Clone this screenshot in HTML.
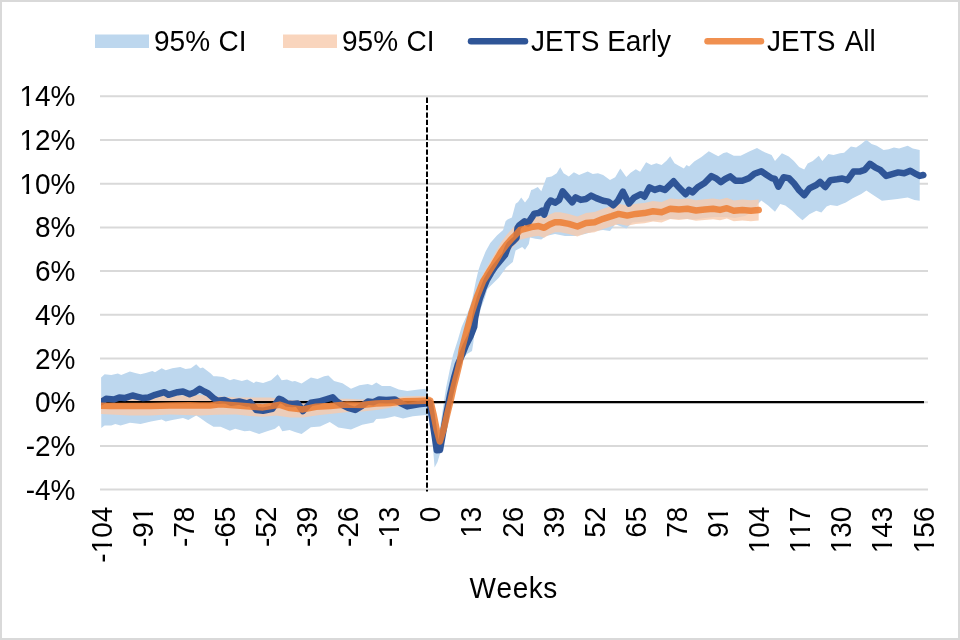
<!DOCTYPE html>
<html><head><meta charset="utf-8"><style>
html,body{margin:0;padding:0;background:#fff;}
body{width:960px;height:640px;overflow:hidden;font-family:"Liberation Sans",sans-serif;}
svg{display:block;}
</style></head><body>
<svg width="960" height="640" viewBox="0 0 960 640">
<rect x="0" y="0" width="960" height="640" fill="#fff"/>
<rect x="1" y="1" width="958" height="638" fill="none" stroke="#D9D9D9" stroke-width="2"/>
<line x1="100" x2="928" y1="489.60" y2="489.60" stroke="#D9D9D9" stroke-width="2"/>
<line x1="100" x2="928" y1="445.90" y2="445.90" stroke="#D9D9D9" stroke-width="2"/>
<line x1="100" x2="928" y1="358.50" y2="358.50" stroke="#D9D9D9" stroke-width="2"/>
<line x1="100" x2="928" y1="314.80" y2="314.80" stroke="#D9D9D9" stroke-width="2"/>
<line x1="100" x2="928" y1="271.10" y2="271.10" stroke="#D9D9D9" stroke-width="2"/>
<line x1="100" x2="928" y1="227.40" y2="227.40" stroke="#D9D9D9" stroke-width="2"/>
<line x1="100" x2="928" y1="183.70" y2="183.70" stroke="#D9D9D9" stroke-width="2"/>
<line x1="100" x2="928" y1="140.00" y2="140.00" stroke="#D9D9D9" stroke-width="2"/>
<line x1="100" x2="928" y1="96.30" y2="96.30" stroke="#D9D9D9" stroke-width="2"/>

<defs><clipPath id="pa"><rect x="101" y="90" width="840" height="410"/></clipPath></defs>
<g clip-path="url(#pa)">
<path d="M101.1,377.6 L104.6,374.2 L111.3,374.9 L117.9,373.6 L121.2,374.9 L129.9,371.6 L135.2,372.9 L140.5,374.2 L145.8,372.9 L152.4,370.9 L155.0,372.3 L161.7,368.3 L165.7,370.3 L172.3,368.3 L180.3,367.0 L185.6,368.9 L190.9,368.3 L196.2,364.3 L200.2,368.3 L202.9,367.6 L210.8,373.6 L213.5,376.2 L216.6,376.2 L223.3,376.9 L229.9,380.2 L233.9,378.9 L241.9,380.9 L247.2,379.6 L253.8,382.9 L256.0,381.6 L263.1,382.9 L271.1,380.2 L277.7,374.2 L281.7,380.2 L287.0,379.6 L292.3,381.6 L295.0,380.9 L301.6,383.5 L310.9,377.6 L317.5,378.9 L324.2,376.2 L328.4,375.5 L334.1,381.1 L342.5,383.2 L351.0,388.8 L359.4,385.3 L367.8,383.9 L372.0,385.3 L376.3,382.5 L381.9,386.0 L390.3,386.0 L398.8,389.5 L407.2,391.0 L418.5,389.5 L425.5,388.8 L427.0,392.0 L429.0,398.0 L431.0,402.0 L434.0,412.0 L437.0,432.0 L440.0,428.0 L443.0,408.0 L446.0,388.0 L449.7,370.0 L453.0,355.0 L457.8,340.0 L461.6,326.9 L465.8,317.5 L469.5,308.1 L472.3,298.8 L474.2,289.4 L476.1,280.0 L478.5,270.0 L480.5,264.0 L485.6,251.6 L490.3,243.1 L496.9,235.6 L503.1,230.0 L505.6,221.3 L507.5,219.4 L511.9,217.5 L513.8,210.6 L515.6,203.8 L518.1,201.9 L521.2,197.5 L525.0,202.5 L528.8,197.5 L531.2,190.0 L533.0,189.5 L537.8,187.0 L541.3,191.3 L546.4,177.5 L551.6,176.6 L556.7,173.2 L560.2,167.2 L563.6,173.2 L568.8,176.6 L573.9,172.3 L579.1,174.9 L587.7,171.5 L592.8,174.1 L598.0,173.2 L603.1,174.9 L610.0,180.0 L615.2,177.2 L620.3,168.4 L626.3,177.0 L630.6,172.7 L635.8,169.2 L640.1,171.8 L646.1,162.3 L651.3,164.9 L656.4,163.2 L661.6,164.9 L666.7,160.6 L670.2,156.3 L674.5,163.2 L678.8,165.8 L683.9,168.4 L686.5,164.9 L689.1,166.6 L694.2,161.5 L701.1,157.2 L708.8,151.2 L714.9,154.6 L718.3,156.3 L723.5,152.9 L726.9,152.3 L733.8,155.8 L740.6,155.8 L749.2,151.5 L757.0,148.1 L764.7,152.3 L771.6,154.9 L775.0,160.9 L781.9,153.2 L788.8,156.6 L793.9,160.9 L799.1,167.0 L804.2,169.5 L807.7,163.5 L812.8,160.9 L818.8,155.8 L822.3,160.9 L828.3,154.1 L833.5,154.9 L840.0,153.2 L844.1,152.7 L850.9,146.6 L856.1,147.5 L861.3,144.1 L866.4,139.8 L871.6,144.1 L876.7,145.8 L883.6,150.1 L888.8,149.2 L893.9,147.5 L899.1,148.4 L907.7,145.8 L912.8,148.4 L919.7,150.1 L919.7,200.8 L914.5,199.9 L907.7,197.4 L897.4,199.1 L888.8,199.9 L881.9,200.8 L871.6,193.9 L866.4,190.5 L861.3,193.9 L852.7,198.2 L845.8,202.5 L837.2,206.0 L830.3,205.1 L826.6,206.5 L821.4,212.5 L816.3,210.8 L809.4,214.2 L802.5,220.3 L797.4,216.0 L792.2,210.8 L785.3,205.6 L780.2,203.9 L775.0,211.7 L768.1,205.6 L761.3,200.5 L758.0,204.0 L752.0,212.0 L745.0,216.0 L735.0,218.0 L725.0,217.0 L715.0,217.0 L705.0,218.0 L695.0,219.5 L687.0,219.0 L679.0,219.0 L670.0,219.0 L660.0,220.0 L650.0,221.0 L640.0,222.0 L632.3,222.5 L626.3,228.5 L620.0,226.0 L615.2,224.2 L610.0,231.1 L603.0,230.0 L595.0,231.0 L585.0,234.0 L575.0,236.0 L565.0,236.0 L555.0,234.0 L546.0,236.0 L541.3,239.4 L535.4,238.7 L530.0,237.6 L528.8,244.0 L525.0,249.7 L522.2,246.9 L515.6,250.6 L512.8,261.9 L506.3,267.5 L498.8,277.8 L489.4,287.0 L487.3,289.4 L484.5,298.8 L481.0,308.0 L479.0,316.0 L476.5,325.0 L474.0,336.0 L473.3,343.0 L472.0,351.0 L467.0,354.0 L462.0,360.0 L458.0,370.0 L454.0,384.0 L450.0,398.0 L447.0,412.0 L443.5,430.0 L440.5,452.0 L437.5,462.0 L434.6,467.5 L431.5,430.0 L428.5,417.0 L425.5,414.9 L412.9,416.3 L403.0,418.4 L394.6,416.3 L384.7,418.4 L376.3,419.1 L373.5,422.6 L362.2,424.7 L351.0,429.6 L338.3,427.5 L329.8,421.9 L320.0,426.5 L310.9,427.3 L301.6,434.0 L295.0,432.0 L289.6,430.0 L282.3,431.3 L279.0,425.4 L275.0,428.7 L267.1,431.3 L259.1,434.0 L249.8,430.7 L244.5,431.3 L235.2,428.7 L229.9,430.7 L220.6,426.7 L213.5,426.7 L206.9,422.7 L200.2,418.0 L196.2,415.4 L188.3,420.0 L183.0,418.0 L172.3,420.0 L165.7,421.4 L161.7,419.4 L151.0,421.4 L140.5,424.0 L136.5,423.4 L129.9,422.7 L120.6,425.4 L115.3,424.0 L111.3,425.4 L104.6,425.4 L101.3,428.0Z" fill="#BDD7EE"/>
<path d="M101.0,397.5 L120.0,396.5 L150.0,396.2 L180.0,395.5 L200.0,395.0 L216.0,396.2 L236.0,397.5 L250.0,397.5 L270.0,397.5 L290.0,400.0 L303.0,400.8 L316.0,400.1 L330.0,399.0 L347.0,398.7 L362.0,399.4 L376.0,398.5 L390.0,398.0 L404.0,396.6 L418.0,395.9 L426.0,395.9 L430.3,396.5 L433.5,410.6 L436.7,426.3 L439.8,437.5 L444.0,423.8 L447.3,409.6 L450.5,396.5 L453.6,382.3 L456.7,370.2 L459.6,358.0 L461.9,343.8 L466.6,325.6 L471.4,307.4 L476.9,290.2 L483.1,273.9 L486.5,268.2 L489.5,262.8 L493.3,256.3 L497.5,248.8 L501.2,242.2 L506.2,235.4 L512.0,228.7 L517.0,223.9 L520.1,220.3 L526.7,218.6 L533.3,216.9 L538.7,216.3 L544.2,217.9 L549.6,214.6 L555.0,212.3 L560.2,212.2 L568.8,213.9 L577.4,216.5 L586.0,213.0 L594.6,212.1 L603.1,208.7 L611.7,206.1 L618.6,203.8 L627.2,205.4 L635.8,203.7 L644.4,202.9 L653.0,201.1 L661.6,201.9 L670.2,198.5 L678.8,199.3 L687.4,198.5 L696.0,200.2 L704.6,199.2 L713.1,198.4 L720.0,199.5 L726.9,197.8 L733.8,200.4 L742.3,199.4 L750.9,200.3 L758.7,199.4 L758.7,220.4 L750.9,221.3 L742.3,220.4 L733.8,221.2 L726.9,218.6 L720.0,220.3 L713.1,219.2 L704.6,220.0 L696.0,220.8 L687.4,219.1 L678.8,219.9 L670.2,219.1 L661.6,222.5 L653.0,221.5 L644.4,223.3 L635.8,224.1 L627.2,225.8 L618.6,224.0 L611.7,226.3 L603.1,228.9 L594.6,232.3 L586.0,233.2 L577.4,236.5 L568.8,233.9 L560.2,232.2 L555.0,232.3 L549.6,234.4 L544.2,237.7 L538.7,235.9 L533.3,236.5 L526.7,238.0 L520.1,239.7 L517.0,243.1 L512.0,247.9 L506.2,254.6 L501.2,261.2 L497.5,267.2 L493.3,273.7 L489.5,279.2 L486.5,283.8 L483.1,288.7 L476.9,303.6 L471.4,319.6 L466.6,337.0 L461.9,354.2 L459.6,368.0 L456.7,379.8 L453.6,391.7 L450.5,405.5 L447.3,418.4 L444.0,432.2 L439.8,445.5 L436.7,433.7 L433.5,417.4 L430.3,404.0 L426.0,405.0 L418.0,405.0 L404.0,405.7 L390.0,407.8 L376.0,410.0 L362.0,411.4 L348.0,412.0 L334.0,413.5 L320.0,414.9 L316.0,415.4 L303.0,417.4 L290.0,417.4 L276.0,415.4 L263.0,416.7 L250.0,416.0 L236.0,414.5 L216.0,414.7 L200.0,415.5 L170.0,414.5 L150.0,415.5 L130.0,415.4 L101.0,414.0Z" fill="#F8CBAD" fill-opacity="0.8"/>
<line x1="100" x2="928" y1="402.2" y2="402.2" stroke="#D9D9D9" stroke-width="2"/>
<line x1="100" x2="924" y1="402.2" y2="402.2" stroke="#000" stroke-width="2.2"/>
<polyline points="101.3,402.1 106.0,398.8 113.9,399.5 119.2,397.5 124.5,398.1 132.5,395.5 137.8,396.8 143.1,398.1 148.4,397.5 155.1,394.8 164.4,392.2 168.4,394.8 177.6,392.2 183.0,391.5 189.6,394.2 194.9,392.2 199.6,388.9 204.2,391.5 208.2,393.5 213.5,398.1 217.5,400.8 224.6,400.1 231.2,402.8 239.2,401.5 247.2,403.5 250.0,402.1 256.5,410.1 263.1,410.8 272.4,408.8 279.0,398.8 282.3,400.1 287.0,403.5 292.3,404.1 297.6,403.5 302.9,411.0 310.9,402.8 318.9,401.5 325.5,399.5 332.7,397.3 336.9,401.5 342.5,405.0 348.1,407.8 355.2,410.0 362.2,405.7 367.8,401.5 373.5,402.2 379.1,399.4 386.1,400.1 394.6,399.4 401.6,403.6 407.2,406.4 418.5,404.2 425.5,403.5 429.7,402.5 433.5,428.0 436.8,450.3 440.0,450.0 443.2,432.0 446.5,413.0 450.0,395.0 454.0,378.0 458.0,364.0 462.0,355.0 466.0,345.0 470.5,336.3 474.2,326.9 475.2,317.5 477.2,308.1 479.7,298.8 483.1,289.4 486.9,280.0 491.0,273.0 495.0,267.0 500.0,261.0 505.0,255.0 507.5,248.3 509.5,244.5 514.0,240.5 516.5,238.0 517.5,228.0 519.0,225.6 524.5,221.2 527.8,223.4 532.2,216.9 534.3,213.6 538.7,213.0 542.0,210.8 544.2,214.7 547.5,204.8 550.7,200.5 555.0,202.7 559.1,200.0 562.7,191.3 567.0,196.4 572.2,202.4 575.6,197.3 580.8,199.9 586.0,199.0 591.1,195.6 596.3,198.1 603.1,200.7 608.3,201.6 613.4,205.3 617.7,201.0 622.9,191.6 628.9,203.6 634.1,197.6 640.9,194.2 644.4,196.7 649.5,187.3 654.7,189.9 659.9,188.1 665.0,189.9 669.3,185.6 673.6,181.3 678.8,187.3 685.6,194.2 689.1,189.9 692.5,192.4 697.7,187.3 704.6,183.0 711.4,176.1 716.6,178.7 720.9,182.1 725.2,179.0 730.3,176.4 735.5,180.7 742.3,180.7 749.2,178.1 754.4,173.8 761.3,171.3 766.4,174.7 771.6,178.1 775.0,179.0 778.4,186.7 783.6,177.3 788.8,178.1 793.9,183.3 799.1,190.2 804.2,195.3 809.4,188.4 816.3,185.0 820.0,181.9 825.2,187.0 830.3,180.2 837.2,179.3 842.3,178.5 847.5,180.2 853.5,171.6 859.5,171.6 864.7,169.9 869.9,163.8 875.0,167.3 880.2,169.9 886.2,175.9 892.2,174.2 898.2,172.4 904.2,173.3 910.3,170.7 916.3,174.2 919.7,175.9 923.3,175.0" fill="none" stroke="#2F5597" stroke-width="6.5" stroke-linejoin="round" stroke-linecap="round"/>
<polyline points="101.3,405.8 110.0,406.0 130.0,406.1 150.0,406.1 170.0,405.4 190.0,405.2 200.0,405.4 210.0,405.4 220.0,404.3 237.0,405.5 250.0,406.6 263.0,407.4 276.0,405.4 280.0,404.8 290.0,408.1 303.0,409.4 316.0,406.8 330.0,406.0 347.0,404.6 362.0,405.0 376.0,403.6 390.0,402.9 404.0,401.3 418.0,400.9 430.3,400.5 433.5,414.0 436.7,430.0 439.8,441.5 444.0,428.0 447.3,414.0 450.5,401.0 453.6,387.0 456.7,375.0 459.6,363.0 461.9,349.0 466.6,331.3 471.4,313.5 476.9,296.9 483.1,281.3 486.5,276.0 489.5,271.0 493.3,265.0 497.5,258.0 501.2,251.7 506.2,245.0 512.0,238.3 517.0,233.5 520.1,230.0 526.7,228.3 533.3,226.7 538.7,226.1 544.2,227.8 549.6,224.5 555.0,222.3 560.2,222.2 568.8,223.9 577.4,226.5 586.0,223.1 594.6,222.2 603.1,218.8 611.7,216.2 618.6,213.9 627.2,215.6 635.8,213.9 644.4,213.1 653.0,211.3 661.6,212.2 670.2,208.8 678.8,209.6 687.4,208.8 696.0,210.5 704.6,209.6 713.1,208.8 720.0,209.9 726.9,208.2 733.8,210.8 742.3,209.9 750.9,210.8 758.7,209.9" fill="none" stroke="#ED7D31" stroke-opacity="0.85" stroke-width="6.5" stroke-linejoin="round" stroke-linecap="round"/>
</g>
<line x1="427" x2="427" y1="97.6" y2="491.5" stroke="#000" stroke-width="2" stroke-dasharray="5.3,2.1"/>

<g font-family="Liberation Sans, sans-serif" font-size="28" fill="#000" style="will-change:transform;font-kerning:none">
<g transform="translate(75.50,499.60) scale(1,1.041)"><text x="-49.79" y="0">-4%</text></g>
<g transform="translate(75.50,455.90) scale(1,1.041)"><text x="-49.79" y="0">-2%</text></g>
<g transform="translate(75.50,412.20) scale(1,1.041)"><text x="-40.47" y="0">0%</text></g>
<g transform="translate(75.50,368.50) scale(1,1.041)"><text x="-40.47" y="0">2%</text></g>
<g transform="translate(75.50,324.80) scale(1,1.041)"><text x="-40.47" y="0">4%</text></g>
<g transform="translate(75.50,281.10) scale(1,1.041)"><text x="-40.47" y="0">6%</text></g>
<g transform="translate(75.50,237.40) scale(1,1.041)"><text x="-40.47" y="0">8%</text></g>
<g transform="translate(75.50,193.70) scale(1,1.041)"><text x="-56.04" y="0">10%</text><rect x="-54.81" y="-3.42" width="5.65" height="4.65" fill="#fff"/><rect x="-46.36" y="-3.42" width="5.50" height="4.65" fill="#fff"/></g>
<g transform="translate(75.50,150.00) scale(1,1.041)"><text x="-56.04" y="0">12%</text><rect x="-54.81" y="-3.42" width="5.65" height="4.65" fill="#fff"/><rect x="-46.36" y="-3.42" width="5.50" height="4.65" fill="#fff"/></g>
<g transform="translate(75.50,106.30) scale(1,1.041)"><text x="-56.04" y="0">14%</text><rect x="-54.81" y="-3.42" width="5.65" height="4.65" fill="#fff"/><rect x="-46.36" y="-3.42" width="5.50" height="4.65" fill="#fff"/></g>

<g transform="translate(111.60,506.60) rotate(-90) scale(1,1.041)"><text x="-56.04" y="0">-104</text><rect x="-45.49" y="-3.42" width="5.65" height="4.65" fill="#fff"/><rect x="-37.04" y="-3.42" width="5.50" height="4.65" fill="#fff"/></g>
<g transform="translate(152.70,506.60) rotate(-90) scale(1,1.041)"><text x="-40.47" y="0">-91</text><rect x="-14.34" y="-3.42" width="5.65" height="4.65" fill="#fff"/><rect x="-5.89" y="-3.42" width="5.50" height="4.65" fill="#fff"/></g>
<g transform="translate(193.79,506.60) rotate(-90) scale(1,1.041)"><text x="-40.47" y="0">-78</text></g>
<g transform="translate(234.89,506.60) rotate(-90) scale(1,1.041)"><text x="-40.47" y="0">-65</text></g>
<g transform="translate(275.98,506.60) rotate(-90) scale(1,1.041)"><text x="-40.47" y="0">-52</text></g>
<g transform="translate(317.08,506.60) rotate(-90) scale(1,1.041)"><text x="-40.47" y="0">-39</text></g>
<g transform="translate(358.17,506.60) rotate(-90) scale(1,1.041)"><text x="-40.47" y="0">-26</text></g>
<g transform="translate(399.27,506.60) rotate(-90) scale(1,1.041)"><text x="-40.47" y="0">-13</text><rect x="-29.91" y="-3.42" width="5.65" height="4.65" fill="#fff"/><rect x="-21.46" y="-3.42" width="5.50" height="4.65" fill="#fff"/></g>
<g transform="translate(440.36,506.60) rotate(-90) scale(1,1.041)"><text x="-15.57" y="0">0</text></g>
<g transform="translate(481.46,506.60) rotate(-90) scale(1,1.041)"><text x="-31.14" y="0">13</text><rect x="-29.91" y="-3.42" width="5.65" height="4.65" fill="#fff"/><rect x="-21.46" y="-3.42" width="5.50" height="4.65" fill="#fff"/></g>
<g transform="translate(522.56,506.60) rotate(-90) scale(1,1.041)"><text x="-31.14" y="0">26</text></g>
<g transform="translate(563.65,506.60) rotate(-90) scale(1,1.041)"><text x="-31.14" y="0">39</text></g>
<g transform="translate(604.75,506.60) rotate(-90) scale(1,1.041)"><text x="-31.14" y="0">52</text></g>
<g transform="translate(645.84,506.60) rotate(-90) scale(1,1.041)"><text x="-31.14" y="0">65</text></g>
<g transform="translate(686.94,506.60) rotate(-90) scale(1,1.041)"><text x="-31.14" y="0">78</text></g>
<g transform="translate(728.03,506.60) rotate(-90) scale(1,1.041)"><text x="-31.14" y="0">91</text><rect x="-14.34" y="-3.42" width="5.65" height="4.65" fill="#fff"/><rect x="-5.89" y="-3.42" width="5.50" height="4.65" fill="#fff"/></g>
<g transform="translate(769.13,506.60) rotate(-90) scale(1,1.041)"><text x="-46.72" y="0">104</text><rect x="-45.49" y="-3.42" width="5.65" height="4.65" fill="#fff"/><rect x="-37.04" y="-3.42" width="5.50" height="4.65" fill="#fff"/></g>
<g transform="translate(810.23,506.60) rotate(-90) scale(1,1.041)"><text x="-46.72" y="0">117</text><rect x="-45.49" y="-3.42" width="5.65" height="4.65" fill="#fff"/><rect x="-37.04" y="-3.42" width="5.50" height="4.65" fill="#fff"/><rect x="-29.91" y="-3.42" width="5.65" height="4.65" fill="#fff"/><rect x="-21.46" y="-3.42" width="5.50" height="4.65" fill="#fff"/></g>
<g transform="translate(851.32,506.60) rotate(-90) scale(1,1.041)"><text x="-46.72" y="0">130</text><rect x="-45.49" y="-3.42" width="5.65" height="4.65" fill="#fff"/><rect x="-37.04" y="-3.42" width="5.50" height="4.65" fill="#fff"/></g>
<g transform="translate(892.42,506.60) rotate(-90) scale(1,1.041)"><text x="-46.72" y="0">143</text><rect x="-45.49" y="-3.42" width="5.65" height="4.65" fill="#fff"/><rect x="-37.04" y="-3.42" width="5.50" height="4.65" fill="#fff"/></g>
<g transform="translate(933.51,506.60) rotate(-90) scale(1,1.041)"><text x="-46.72" y="0">156</text><rect x="-45.49" y="-3.42" width="5.65" height="4.65" fill="#fff"/><rect x="-37.04" y="-3.42" width="5.50" height="4.65" fill="#fff"/></g>

<g transform="translate(513.50,598.00) scale(1,1.041)"><text x="-43.89" y="0" letter-spacing="0.55">Weeks</text></g>

<rect x="95" y="34.5" width="54" height="13.5" fill="#BDD7EE"/>
<g transform="translate(154.00,51.00) scale(1,1.041)"><text x="0.00" y="0">95%</text></g>
<g transform="translate(218.60,51.00) scale(1,1.041)"><text x="0.00" y="0">CI</text></g>

<rect x="283" y="34.5" width="54" height="13.5" fill="#F8CBAD" fill-opacity="0.8"/>
<g transform="translate(342.00,51.00) scale(1,1.041)"><text x="0.00" y="0">95%</text></g>
<g transform="translate(406.50,51.00) scale(1,1.041)"><text x="0.00" y="0">CI</text></g>

<line x1="471" x2="525" y1="41.3" y2="41.3" stroke="#2F5597" stroke-width="6.5" stroke-linecap="round"/>
<g transform="translate(531.00,51.00) scale(1,1.041)"><text x="0.00" y="0">JETS Early</text></g>

<line x1="707.5" x2="761" y1="41.3" y2="41.3" stroke="#ED7D31" stroke-opacity="0.85" stroke-width="6.5" stroke-linecap="round"/>
<g transform="translate(767.00,51.00) scale(1,1.041)"><text x="0.00" y="0">JETS</text></g>
<g transform="translate(844.70,51.00) scale(1,1.041)"><text x="0.00" y="0">All</text></g>

</g>
</svg>
</body></html>
